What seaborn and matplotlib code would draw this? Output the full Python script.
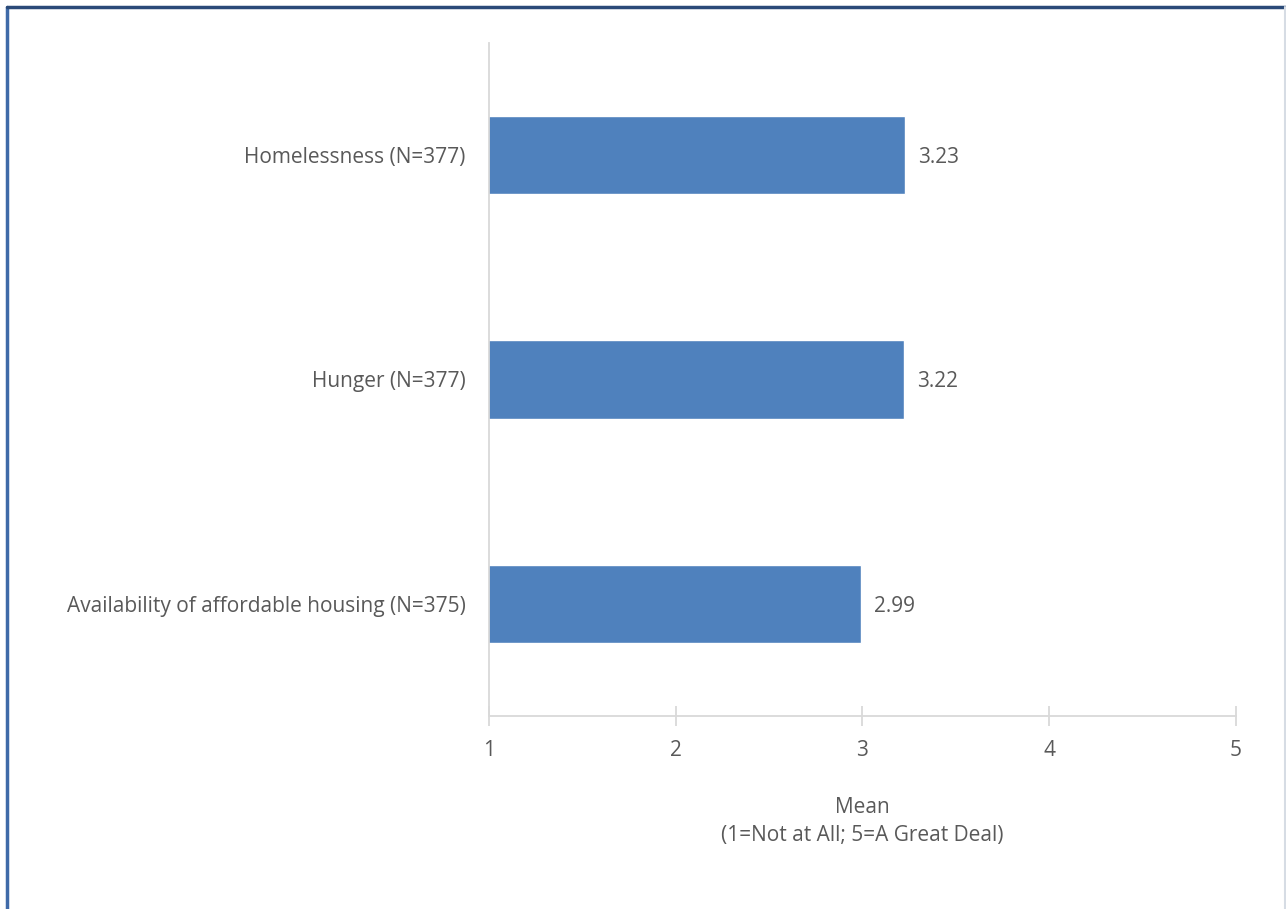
import matplotlib
matplotlib.use("Agg")
import matplotlib.pyplot as plt
import seaborn as sns
import pandas as pd
from matplotlib.lines import Line2D

categories = ["Homelessness (N=377)", "Hunger (N=377)", "Availability of affordable housing (N=375)"]
means = [3.23, 3.22, 2.99]
xticks = [1, 2, 3, 4, 5]

sns.set_style("white")
plt.rcParams['font.family'] = ['Open Sans', 'DejaVu Sans']

df = pd.DataFrame({"item": categories, "mean": means})

fig = plt.figure(figsize=(12.86, 9.09), dpi=100)
ax = fig.add_axes([489 / 1286, 1 - 716 / 909, (1236 - 489) / 1286, (716 - 43) / 909])

sns.barplot(data=df, x="mean", y="item", orient="h", color="#4f81bd", saturation=1,
            width=0.35, ax=ax)

gray = "#595959"
fs = 15
for i, v in enumerate(means):
    ax.text(v + 0.07, i + 0.01, f"{v:.2f}", va="center", ha="left", fontsize=fs, color=gray)

ax.set_xlim(1, 5)
ax.set_ylim(2.5, -0.5)
ax.set_xticks(xticks)
ax.set_xticklabels([str(t) for t in xticks])
ax.set_ylabel("")
ax.set_xlabel("Mean\n(1=Not at All; 5=A Great Deal)", fontsize=fs, color=gray, labelpad=26,
              linespacing=1.45)

for s in ["top", "right"]:
    ax.spines[s].set_visible(False)
for s in ["left", "bottom"]:
    ax.spines[s].set_color("#d9d9d9")
    ax.spines[s].set_linewidth(1.3)

ax.tick_params(axis="x", bottom=True, direction="inout", length=14, width=1.3, color="#d9d9d9",
               labelsize=fs, labelcolor=gray, pad=10)
ax.tick_params(axis="y", left=False, length=0, labelsize=fs, labelcolor=gray, pad=17)

# outer border like the original frame
fig.add_artist(Line2D([7 / 1286, 7 / 1286], [0, 1 - 7 / 909], transform=fig.transFigure,
                      color="#3f6aa8", lw=2.5))
fig.add_artist(Line2D([7 / 1286, 1], [1 - 7 / 909, 1 - 7 / 909], transform=fig.transFigure,
                      color="#2b4a78", lw=2.5))
fig.add_artist(Line2D([1 - 1 / 1286, 1 - 1 / 1286], [0, 1 - 7 / 909], transform=fig.transFigure,
                      color="#d6dce4", lw=1.5))

fig.savefig("out.png", dpi=100)
